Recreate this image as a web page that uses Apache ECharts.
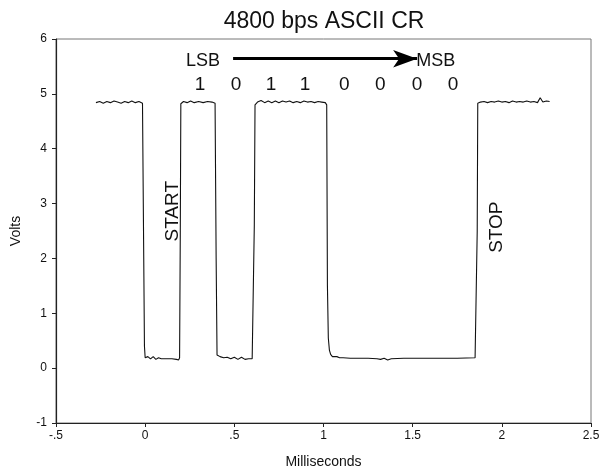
<!DOCTYPE html>
<html>
<head>
<meta charset="utf-8">
<script src="https://cdn.jsdelivr.net/npm/echarts@6/dist/echarts.min.js"></script>
<style>
  html, body { margin: 0; padding: 0; background: #fff; }
  #chart { width: 601px; height: 470px; }
</style>
</head>
<body>
<div id="chart"></div>
<script>
// scope trace (ms, volts)
const traceX = [
  -0.276, -0.255, -0.235, -0.215, -0.195, -0.175, -0.155, -0.135, -0.115, -0.095,
  -0.075, -0.055, -0.035, -0.015, -0.008,
  -0.004, 0.0, 0.015, 0.03, 0.045, 0.06, 0.075, 0.09, 0.12, 0.15, 0.175, 0.188, 0.193,
  0.197, 0.2, 0.215, 0.235, 0.255, 0.275, 0.3, 0.325, 0.35, 0.375, 0.392,
  0.398, 0.403, 0.42, 0.44, 0.46, 0.48, 0.5, 0.52, 0.54, 0.56, 0.58, 0.6, 0.607,
  0.612, 0.616, 0.63, 0.65, 0.67, 0.69, 0.71, 0.73, 0.75, 0.77, 0.79, 0.81, 0.83,
  0.85, 0.87, 0.89, 0.91, 0.93, 0.95, 0.97, 0.99, 1.01, 1.018,
  1.022, 1.027, 1.033, 1.04, 1.05, 1.06, 1.075, 1.09, 1.11, 1.15, 1.2, 1.25, 1.3,
  1.32, 1.34, 1.36, 1.38, 1.45, 1.55, 1.65, 1.75, 1.85, 1.858,
  1.862, 1.865, 1.88, 1.9, 1.92, 1.94, 1.96, 1.98, 2.0, 2.02, 2.04, 2.06, 2.08,
  2.1, 2.12, 2.14, 2.16, 2.18, 2.2, 2.215, 2.23, 2.25, 2.268
];
const traceY = [
  4.84, 4.86, 4.83, 4.86, 4.84, 4.87, 4.85, 4.83, 4.86, 4.84,
  4.87, 4.84, 4.86, 4.83, 4.80,
  0.40, 0.19, 0.21, 0.17, 0.21, 0.16, 0.19, 0.17, 0.17, 0.17, 0.16, 0.15, 0.19,
  2.5, 4.82, 4.86, 4.84, 4.87, 4.84, 4.86, 4.84, 4.86, 4.85, 4.83,
  2.0, 0.24, 0.21, 0.19, 0.2, 0.17, 0.2, 0.16, 0.2, 0.16, 0.17, 0.17, 0.18,
  2.6, 4.8, 4.85, 4.88, 4.84, 4.87, 4.84, 4.87, 4.84, 4.87, 4.85, 4.87, 4.84,
  4.86, 4.84, 4.87, 4.85, 4.86, 4.84, 4.86, 4.85, 4.84, 4.8,
  1.5, 0.55, 0.33, 0.25, 0.21, 0.2, 0.21, 0.19, 0.19, 0.18, 0.18, 0.18, 0.17,
  0.16, 0.18, 0.15, 0.17, 0.18, 0.18, 0.18, 0.18, 0.19, 0.19,
  2.5, 4.83, 4.85, 4.86, 4.84, 4.86, 4.85, 4.87, 4.85, 4.86, 4.84, 4.87, 4.85,
  4.86, 4.85, 4.87, 4.85, 4.86, 4.84, 4.93, 4.85, 4.87, 4.86
];

// axis ticks
const xTickValues = [-0.5, 0, 0.5, 1, 1.5, 2, 2.5];
const xTickLabels = ["-.5", "0", ".5", "1", "1.5", "2", "2.5"];

// annotations (data coordinates)
const bitLabels = ["1", "0", "1", "1", "0", "0", "0", "0"];
const bitX = [0.308, 0.51, 0.706, 0.897, 1.116, 1.318, 1.525, 1.727];
const bitY = 5.16;
const endLabels = ["LSB", "MSB"];
const endX = [0.324, 1.63];
const endY = 5.6;
const arrowX = [0.493, 1.525];
const arrowY = 5.64;
const frameLabels = ["START", "STOP"];
const frameX = [0.156, 1.973];
const frameY = [2.86, 2.57];

const FONT = "Liberation Sans, Arial, sans-serif";
const INK = "#111";

const chart = echarts.init(document.getElementById("chart"));

const textPoints = [
  ...bitLabels.map((t, i) => ({ value: [bitX[i], bitY], name: t, fs: 19, rot: 0 })),
  ...endLabels.map((t, i) => ({ value: [endX[i], endY], name: t, fs: 18, rot: 0 })),
  ...frameLabels.map((t, i) => ({ value: [frameX[i], frameY[i]], name: t, fs: 19, rot: 90 })),
].map((p) => ({
  value: p.value,
  name: p.name,
  label: {
    show: true,
    position: "inside",
    formatter: p.name,
    fontSize: p.fs,
    rotate: p.rot,
    color: INK,
    fontFamily: FONT,
  },
}));

chart.setOption({
  animation: false,
  title: {
    text: "4800 bps ASCII CR",
    left: 319,
    textAlign: "center",
    top: 5,
    textStyle: { fontSize: 23, fontWeight: "normal", color: INK, fontFamily: FONT },
  },
  grid: {
    left: 56, right: 10, top: 39, bottom: 47,
    outerBoundsMode: "none",
    containLabel: false,
    show: true, borderColor: "#777", borderWidth: 1,
  },
  xAxis: {
    type: "value",
    min: -0.5,
    max: 2.5,
    interval: 0.5,
    name: "Milliseconds",
    nameLocation: "middle",
    nameGap: 32,
    nameTextStyle: { fontSize: 14, color: INK, fontFamily: FONT },
    axisLine: { onZero: false, lineStyle: { color: "#222", width: 1.2 } },
    axisTick: { show: true, length: 4, lineStyle: { color: "#222" } },
    axisLabel: {
      fontSize: 12, color: INK, fontFamily: FONT, margin: 7,
      formatter: (v) => {
        const i = xTickValues.findIndex((t) => Math.abs(t - v) < 1e-9);
        return i >= 0 ? xTickLabels[i] : "";
      },
    },
    splitLine: { show: false },
  },
  yAxis: {
    type: "value",
    min: -1,
    max: 6,
    interval: 1,
    name: "Volts",
    nameLocation: "middle",
    nameGap: 33,
    nameTextStyle: { fontSize: 14, color: INK, fontFamily: FONT },
    axisLine: { show: true, onZero: false, lineStyle: { color: "#222", width: 1.2 } },
    axisTick: { show: true, length: 4, lineStyle: { color: "#222" } },
    axisLabel: { fontSize: 12, color: INK, fontFamily: FONT, margin: 9 },
    splitLine: { show: false },
  },
  series: [
    {
      name: "signal",
      type: "line",
      data: traceX.map((x, i) => [x, traceY[i]]),
      showSymbol: false,
      smooth: false,
      lineStyle: { color: INK, width: 1.1 },
      markLine: {
        silent: true,
        symbol: ["none", "arrow"],
        symbolSize: [13, 24],
        label: { show: false },
        lineStyle: { color: "#000", width: 3, type: "solid" },
        data: [[{ coord: [arrowX[0], arrowY] }, { coord: [arrowX[1], arrowY] }]],
      },
    },
    {
      name: "notes",
      type: "scatter",
      symbolSize: 0,
      silent: true,
      itemStyle: { opacity: 1 },
      data: textPoints,
    },
  ],
});
</script>
</body>
</html>
